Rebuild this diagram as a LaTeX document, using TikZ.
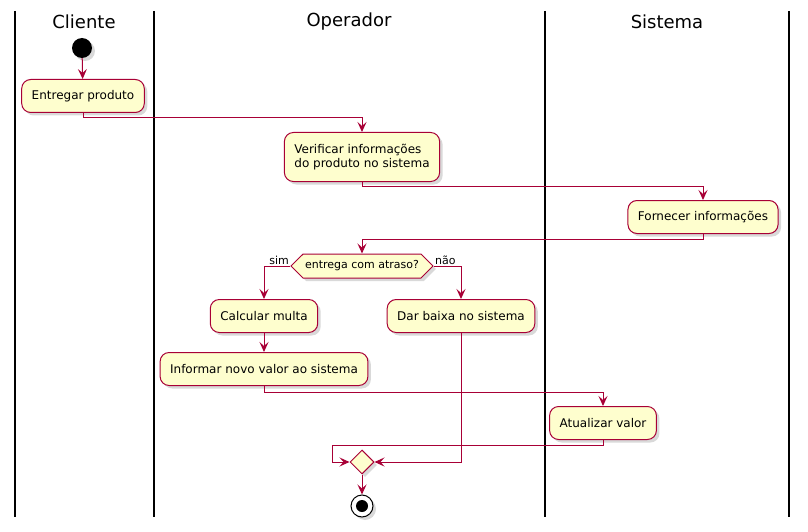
\documentclass[tikz,border=0pt]{standalone}
\usepackage{fontspec}
\setmainfont{DejaVu Sans}
\usetikzlibrary{arrows.meta,shadows,shapes.geometric,shapes.symbols}
\definecolor{umlred}{HTML}{A80036}
\definecolor{umlfill}{HTML}{FEFECE}
\begin{document}
\begin{tikzpicture}[x=1pt,y=-1pt,
    shade/.style={drop shadow={shadow xshift=3pt,shadow yshift=-3pt,opacity=0.3}},
    act/.style={draw=umlred,fill=umlfill,line width=1pt,rounded corners=9pt,
      inner xsep=10pt,minimum height=33pt,align=left,shade,
      font=\fontsize{12}{14.5}\selectfont},
    decis/.style={signal,signal to=east and west,signal pointer angle=90,
      draw=umlred,fill=umlfill,line width=1pt,minimum height=24pt,inner xsep=2pt,
      shade,font=\fontsize{11}{12}\selectfont},
    merge/.style={diamond,draw=umlred,fill=umlfill,line width=1pt,minimum size=24pt,
      inner sep=0pt,shade},
    lane/.style={line width=2pt},
    lbl/.style={font=\fontsize{11}{12}\selectfont,inner sep=1pt},
    flow/.style={->,draw=umlred,line width=1pt},
    >={Stealth[length=10pt,width=9pt,inset=4pt]}]
  \useasboundingbox (0,0) rectangle (808,532);
  % swimlanes
  \foreach \x in {15,154,545,789}
    \draw [lane] (\x,11) -- (\x,517);
  \node [font=\fontsize{18}{20}\selectfont] (hcli) at (84,22) {Cliente};
  \node [font=\fontsize{18}{20}\selectfont] (hope) at (349,22) {Operador};
  \node [font=\fontsize{18}{20}\selectfont] (hsis) at (667,22) {Sistema};
  % activities
  \node [circle,fill=black,minimum size=20pt,inner sep=0pt,shade] (start) at (82,48) {};
  \node [act] (entregar) at (83,96) {Entregar produto};
  \node [act,minimum height=49pt] (verificar) at (362,157) {Verificar informações\\do produto no sistema};
  \node [act] (fornecer) at (703,217) {Fornecer informações};
  \node [decis] (atraso) at (362,266) {entrega com atraso?};
  \node [act] (calcular) at (264,316) {Calcular multa};
  \node [act] (baixa) at (461,316) {Dar baixa no sistema};
  \node [act] (informar) at (264,369) {Informar novo valor ao sistema};
  \node [act] (atualizar) at (603,423) {Atualizar valor};
  \node [merge] (juntar) at (362,462) {};
  \coordinate (volta) at (332,462);
  \node [circle,draw=black,fill=white,line width=1pt,minimum size=22pt,inner sep=0pt,shade] (fim) at (362,506) {};
  \fill [black] (fim) circle (6);
  % flows
  \draw [flow] (start) -- (entregar);
  \draw [flow] (entregar.south) -- ++(0,5) -| (verificar.north);
  \draw [flow] (verificar.south) -- ++(0,4) -| (fornecer.north);
  \draw [flow] (fornecer.south) -- ++(0,5) -| (atraso.north);
  \draw [flow] (atraso.west) node [lbl,above left] {sim} -| (calcular.north);
  \draw [flow] (atraso.east) node [lbl,above right] {não} -| (baixa.north);
  \draw [flow] (calcular) -- (informar);
  \draw [flow] (informar.south) -- ++(0,6) -| (atualizar.north);
  \draw [flow] (atualizar.south) -- ++(0,5) -| (volta) -- (juntar.west);
  \draw [flow] (baixa.south) |- (juntar.east);
  \draw [flow] (juntar) -- (fim);
\end{tikzpicture}
\end{document}
